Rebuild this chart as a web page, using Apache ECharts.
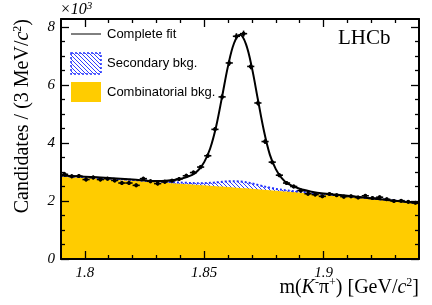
<!DOCTYPE html>
<html><head><meta charset="utf-8">
<script src="https://cdn.jsdelivr.net/npm/echarts@6/dist/echarts.min.js"></script>
<style>html,body{margin:0;padding:0;background:#fff}#c{width:432px;height:305px}</style>
</head><body><div id="c"></div>
<script>
// ---- Data (candidates in units of 10^3 per 3 MeV/c^2 bin) ----
const binCenters = [1.7915,1.7945,1.7975,1.8005,1.8035,1.8065,1.8095,1.8125,1.8155,1.8185,
  1.8215,1.8245,1.8275,1.8305,1.8335,1.8365,1.8395,1.8425,1.8455,1.8485,
  1.8515,1.8545,1.8575,1.8605,1.8635,1.8665,1.8695,1.8725,1.8755,1.8785,
  1.8815,1.8845,1.8875,1.8905,1.8935,1.8965,1.8995,1.9025,1.9055,1.9085,
  1.9115,1.9145,1.9175,1.9205,1.9235,1.9265,1.9295,1.9325,1.9355,1.9385];
const counts = [2.92,2.85,2.86,2.74,2.81,2.74,2.77,2.71,2.62,2.62,
  2.54,2.77,2.68,2.60,2.66,2.70,2.76,2.87,2.98,3.17,
  3.56,4.47,5.59,6.76,7.68,7.77,6.64,5.38,4.05,3.34,
  2.89,2.62,2.50,2.36,2.25,2.22,2.16,2.24,2.20,2.15,
  2.16,2.12,2.18,2.10,2.13,2.06,2.00,2.01,1.97,1.94];
// fit components sampled along the mass axis
const curveX = [1.79,1.80,1.81,1.82,1.83,1.835,1.84,1.845,1.8475,1.85,1.8525,1.855,1.8575,1.86,1.8625,
  1.865,1.8675,1.87,1.8725,1.875,1.8775,1.88,1.8825,1.885,1.89,1.895,1.90,1.91,1.92,1.93,1.94];
const combBkg = [2.84,2.795,2.745,2.698,2.648,2.622,2.596,2.568,2.554,2.540,2.526,2.511,2.497,2.482,2.467,
  2.452,2.436,2.421,2.405,2.389,2.373,2.357,2.340,2.324,2.290,2.255,2.220,2.148,2.073,1.995,1.913];
const secBkg = [0.03,0.03,0.03,0.03,0.03,0.035,0.04,0.05,0.06,0.075,0.10,0.13,0.165,0.195,0.215,
  0.22,0.21,0.185,0.15,0.115,0.085,0.06,0.045,0.035,0.03,0.025,0.02,0.02,0.015,0.015,0.01];
const fitTotal = [2.88,2.84,2.79,2.74,2.69,2.71,2.76,2.90,3.06,3.34,3.81,4.57,5.60,6.66,7.44,
  7.73,7.41,6.59,5.50,4.43,3.60,3.10,2.79,2.60,2.42,2.32,2.26,2.18,2.09,2.01,1.92];
const xMajorTicks = [1.8, 1.85, 1.9];
const xMinorTicks = [1.81,1.82,1.83,1.84,1.86,1.87,1.88,1.89,1.91,1.92,1.93];
const yMajorTicks = [0, 2, 4, 6, 8];
const yMinorTicks = [0.5,1,1.5,2.5,3,3.5,4.5,5,5.5,6.5,7,7.5];

// ---- hatch pattern ----
function hatch(){
  const s = 4, c = document.createElement('canvas'); c.width = s; c.height = s;
  const g = c.getContext('2d'); g.strokeStyle = '#2f3cff'; g.lineWidth = 1;
  g.beginPath();
  g.moveTo(0,0); g.lineTo(s,s);
  g.moveTo(-1,s-1); g.lineTo(1,s+1);
  g.moveTo(s-1,-1); g.lineTo(s+1,1);
  g.stroke();
  return {image: c, repeat: 'repeat'};
}
const hatchFill = hatch();

const XMIN = 1.79, XMAX = 1.94, YMAX = 240/29;
const labelFont = {color:'#000', fontFamily:'Liberation Serif', fontStyle:'italic', fontSize:15};
function xAx(pos, ticks, len, showLabel, showLine){
  return {type:'value', min:XMIN, max:XMAX, position:pos, z:10,
    axisLine:{show:showLine, onZero:false, lineStyle:{color:'#000', width:2}},
    axisTick:{show:true, inside:true, length:len, customValues:ticks, lineStyle:{color:'#000', width:1.3}},
    axisLabel:Object.assign({show:showLabel, customValues:ticks, margin:7}, labelFont),
    splitLine:{show:false}};
}
function yAx(pos, ticks, len, showLabel, showLine){
  return {type:'value', min:0, max:YMAX, position:pos, offset:0, z:10,
    axisLine:{show:showLine, onZero:false, lineStyle:{color:'#000', width:2}},
    axisTick:{show:true, inside:true, length:len, customValues:ticks, lineStyle:{color:'#000', width:1.3}},
    axisLabel:Object.assign({show:showLabel, customValues:ticks, margin:6}, labelFont),
    splitLine:{show:false}};
}

const zip = (xs, ys) => xs.map((x,i)=>[x, ys[i]]);
const bkgTop = combBkg.map((v,i)=> v + secBkg[i]);
const chart = echarts.init(document.getElementById('c'), null, {renderer:'canvas'});
chart.setOption({
  animation:false,
  backgroundColor:'#fff',
  grid:{left:61, top:19, width:358, height:240, containLabel:false, outerBoundsMode:'none'},
  xAxis:[xAx('bottom', xMajorTicks, 8, true, true), xAx('bottom', xMinorTicks, 4, false, false),
         xAx('top', xMajorTicks, 8, false, true), xAx('top', xMinorTicks, 4, false, false)],
  yAxis:[yAx('left', yMajorTicks, 8, true, true), yAx('left', yMinorTicks, 4, false, false),
         yAx('right', yMajorTicks, 8, false, true), yAx('right', yMinorTicks, 4, false, false)],
  series:[
    {type:'line', name:'Secondary bkg.', data:zip(curveX, bkgTop), smooth:0.3,
     symbol:'none', lineStyle:{width:0}, areaStyle:{color:hatchFill, opacity:1}, z:1},
    {type:'line', name:'Combinatorial bkg.', data:zip(curveX, combBkg), smooth:0.3,
     symbol:'none', lineStyle:{width:0}, areaStyle:{color:'#ffcc00', opacity:1}, z:2},
    {type:'line', name:'Secondary edge', data:zip(curveX, bkgTop), smooth:0.3,
     symbol:'none', lineStyle:{color:'#1f2fff', width:2, type:[2,2]}, z:3},
    {type:'line', name:'Complete fit', data:zip(curveX, fitTotal), smooth:0.35,
     symbol:'none', lineStyle:{color:'#000', width:2}, z:4},
    {type:'custom', name:'Data', z:5,
     data: binCenters.map((x,i)=>[x, counts[i], Math.sqrt(counts[i]*1000)/1000]),
     renderItem(params, api){
       const x = api.value(0), y = api.value(1), e = api.value(2);
       const c = api.coord([x, y]);
       const l = api.coord([x-0.0015, y]), r = api.coord([x+0.0015, y]);
       const t = api.coord([x, y+e]), b = api.coord([x, y-e]);
       return {type:'group', children:[
         {type:'line', shape:{x1:l[0], y1:c[1], x2:r[0], y2:c[1]}, style:{stroke:'#000', lineWidth:1.6}},
         {type:'line', shape:{x1:c[0], y1:t[1]-0.5, x2:c[0], y2:b[1]+0.5}, style:{stroke:'#000', lineWidth:1.6}},
         {type:'circle', shape:{cx:c[0], cy:c[1], r:2}, style:{fill:'#000'}}
       ]};
     }}
  ],
  graphic:[
    {type:'line', shape:{x1:71, y1:34, x2:101, y2:34}, style:{stroke:'#000', lineWidth:1}},
    {type:'text', x:107, y:34, style:{text:'Complete fit', fill:'#000', font:'13px "Liberation Sans"', verticalAlign:'middle'}},
    {type:'rect', shape:{x:71, y:53, width:30, height:21}, style:{fill:hatchFill, stroke:'#1f2fff', lineWidth:1.5, lineDash:[2,2]}},
    {type:'text', x:107, y:63, style:{text:'Secondary bkg.', fill:'#000', font:'13px "Liberation Sans"', verticalAlign:'middle'}},
    {type:'rect', shape:{x:71, y:82, width:30, height:20}, style:{fill:'#ffcc00'}},
    {type:'text', x:107, y:92, style:{text:'Combinatorial bkg.', fill:'#000', font:'13px "Liberation Sans"', verticalAlign:'middle'}},
    {type:'text', x:338, y:38, style:{text:'LHCb', fill:'#000', font:'21px "Liberation Serif"', verticalAlign:'middle'}},
    {type:'text', x:60, y:10, style:{text:'{a|×10}{s|3}', verticalAlign:'middle',
      rich:{a:{fontFamily:'Liberation Serif', fontStyle:'italic', fontSize:16, fill:'#000', lineHeight:18},
            s:{fontFamily:'Liberation Serif', fontStyle:'italic', fontSize:11, fill:'#000', verticalAlign:'top'}}}},
    {type:'text', x:23, y:19, rotation:Math.PI/2, style:{text:'{a|Candidates / (3 MeV/}{k|c}{s|2}{a|)}', align:'right', verticalAlign:'middle',
      rich:{a:{fontFamily:'Liberation Serif', fontSize:20, fill:'#000', lineHeight:22},
            k:{fontFamily:'Liberation Serif', fontStyle:'italic', fontSize:20, fill:'#000', lineHeight:22},
            s:{fontFamily:'Liberation Serif', fontSize:12, fill:'#000', verticalAlign:'top'}}}},
    {type:'text', x:419, y:288, style:{text:'{a|m(}{k|K}{s|-}{a|π}{s|+}{a|) [GeV/}{k|c}{s|2}{a|]}', align:'right', verticalAlign:'middle',
      rich:{a:{fontFamily:'Liberation Serif', fontSize:20, fill:'#000', lineHeight:22},
            k:{fontFamily:'Liberation Serif', fontStyle:'italic', fontSize:20, fill:'#000', lineHeight:22},
            s:{fontFamily:'Liberation Serif', fontSize:12, fill:'#000', verticalAlign:'top'}}}}
  ]
});
</script></body></html>
